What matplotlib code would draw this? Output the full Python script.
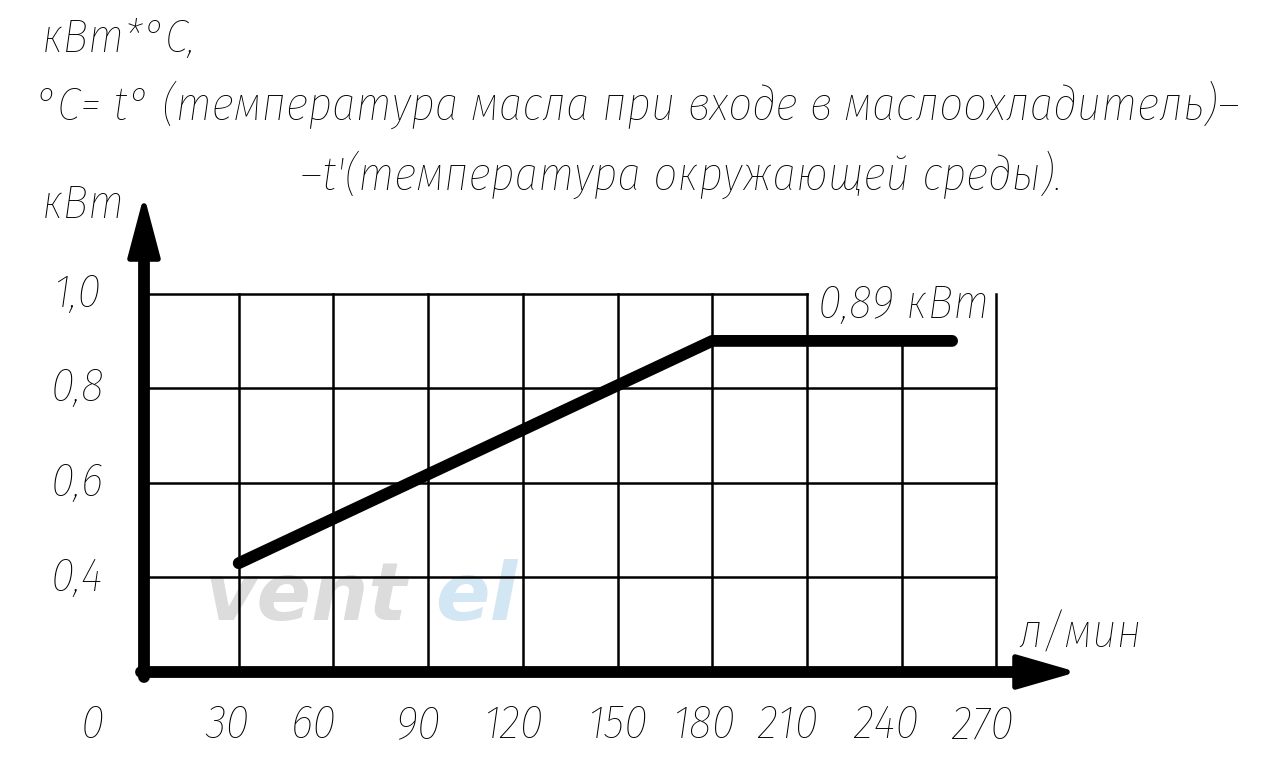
import numpy as np
import matplotlib
matplotlib.use("Agg")
import matplotlib.pyplot as plt

# data
flow = [30, 180, 256]          # л/мин
power = [0.43, 0.90, 0.90]     # кВт
x_ticks = [0, 30, 60, 90, 120, 150, 180, 210, 240, 270]
y_ticks = [0.4, 0.6, 0.8, 1.0]
y_tick_labels = ["0,4", "0,6", "0,8", "1,0"]
max_label = "0,89 кВт"

plt.rcParams["font.family"] = ["Fira Sans Condensed", "DejaVu Sans"]

W, H = 1267, 763
fig = plt.figure(figsize=(W / 100, H / 100), dpi=100)
ax = fig.add_axes([0, 0, 1, 1])
# pixel mapping: x=0 at px 144, 30 units per 94.7 px; y=0.2 at px 672, 0.2 per 94.6 px
XS, YS = 30 / 94.7, 0.2 / 94.6
ax.set_xlim(-144 * XS, (W - 144) * XS)
ax.set_ylim(0.2 - (H - 672) * YS, 0.2 + 672 * YS)
ax.axis("off")

def px(x, y):
    return x / W, 1 - y / H

# grid
glw = 1.8
for v in [0.4, 0.6, 0.8]:
    ax.plot([0, 270], [v, v], color="black", lw=glw)
ax.plot([0, 210], [1.0, 1.0], color="black", lw=glw)
for v in x_ticks[1:]:
    top = 0.9 if v == 240 else 1.0
    ax.plot([v, v], [0.2, top], color="black", lw=glw)

# axes with arrows
alw = 8.5
ax.plot([0, 0], [0.2 - 5 * YS, 0.2 + (672 - 255) * YS], color="black",
        lw=alw, solid_capstyle="round")
ax.plot([-3 * XS, (1015 - 144) * XS], [0.2, 0.2], color="black", lw=alw,
        solid_capstyle="round")
ax.fill([-14 * XS, 0, 14 * XS], [0.2 + (672 - 259) * YS, 0.2 + (672 - 206) * YS,
        0.2 + (672 - 259) * YS], color="black", lw=4, ec="black",
        joinstyle="round")
ax.fill([(1015 - 144) * XS, (1067 - 144) * XS, (1015 - 144) * XS],
        [0.2 + 15 * YS, 0.2, 0.2 - 15 * YS], color="black", lw=4, ec="black",
        joinstyle="round")

# data line
ax.plot(flow, power, color="black", lw=8.5, solid_capstyle="round",
        solid_joinstyle="round")

fs = 34
tkw = dict(style="italic", fontsize=fs, fontweight="light", color="black")
# tick labels (small offsets follow the reference's hand placement)
x_off = {0: -52, 30: -11, 60: -20, 90: -10, 120: -10, 150: 0, 180: -9,
         210: -19, 240: -15, 270: -13}
for v in x_ticks:
    ax.text(v + x_off[v] * XS, 0.2 - (725 - 672) * YS, str(v),
            ha="center", va="center", **tkw)
for v, lab in zip(y_ticks, y_tick_labels):
    ax.text(-67 * XS, v, lab, ha="center", va="center", **tkw)

ax.text((818 - 144) * XS, 0.2 + (672 - 318) * YS, max_label,
        ha="left", va="baseline", **tkw)

# axis names and header
fig.text(*px(1018, 648), "л/мин", ha="left", va="baseline", **tkw)
fig.text(*px(42, 218), "кВт", ha="left", va="baseline", **tkw)
fig.text(*px(42, 52), "кВт*°С,", ha="left", va="baseline", **tkw)
fig.text(*px(35, 120),
         "°С= t° (температура масла при входе в маслоохладитель)–",
         ha="left", va="baseline", **tkw)
fig.text(*px(300, 190), "–t'(температура окружающей среды).",
         ha="left", va="baseline", **tkw)

# faint watermark
wkw = dict(fontsize=58, fontweight="heavy", style="italic", ha="left",
           va="center", zorder=0, family="DejaVu Sans")
ax.text((205 - 144) * XS, 0.2 + (672 - 598) * YS, "vent", color="#dcdcdc", **wkw)
ax.text((435 - 144) * XS, 0.2 + (672 - 598) * YS, "el", color="#d3e6f3", **wkw)

fig.savefig("out.png", dpi=100)
